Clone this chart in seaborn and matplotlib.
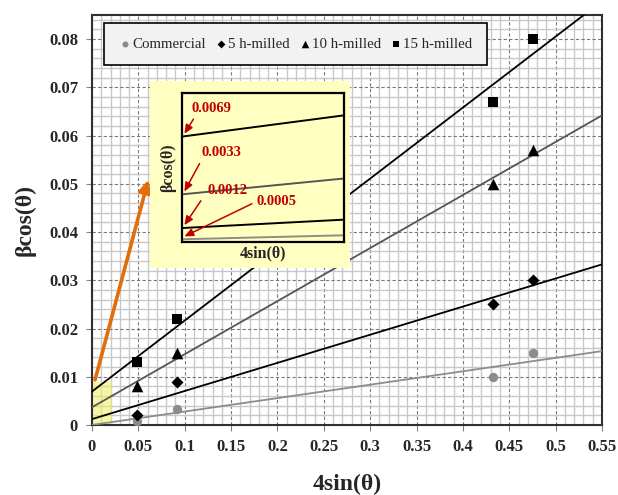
import numpy as np
import pandas as pd
import matplotlib
matplotlib.use("Agg")
import matplotlib.pyplot as plt
import seaborn as sns
from matplotlib.patches import Rectangle
from matplotlib.ticker import MultipleLocator, FixedLocator, FuncFormatter

# ---------------- data ----------------
series_names = ["Commercial", "5 h-milled", "10 h-milled", "15 h-milled"]
x_vals = [0.048, 0.092, 0.432, 0.476]
commercial = [0.0009, 0.0033, 0.0100, 0.0150]
milled_5h = [0.0020, 0.0090, 0.0250, 0.0300]
milled_10h = [0.0080, 0.0150, 0.0500, 0.0570]
milled_15h = [0.0130, 0.0220, 0.0670, 0.0800]
inset_labels = ["0.0005", "0.0012", "0.0033", "0.0069"]
x_ticks = [0, 0.05, 0.1, 0.15, 0.2, 0.25, 0.3, 0.35, 0.4, 0.45, 0.5, 0.55]
y_ticks = [0, 0.01, 0.02, 0.03, 0.04, 0.05, 0.06, 0.07, 0.08]

series_values = [commercial, milled_5h, milled_10h, milled_15h]
markers = ["o", "D", "^", "s"]
marker_sizes = [45, 38, 70, 50]
marker_colors = ["#8C8C8C", "black", "black", "black"]
line_colors = ["#8C8C8C", "black", "#555555", "black"]

sns.set_theme(style="white")
plt.rcParams["font.family"] = ["Liberation Serif", "DejaVu Serif"]

fig = plt.figure(figsize=(6.18, 4.95), dpi=100)
ax = fig.add_axes([92 / 618, 1 - 425 / 495, 510 / 618, 410 / 495])
ax.set_xlim(0, 0.55)
ax.set_ylim(0, 0.085)

# grid
ax.xaxis.set_major_locator(FixedLocator(x_ticks))
ax.yaxis.set_major_locator(FixedLocator(y_ticks))
ax.xaxis.set_minor_locator(MultipleLocator(0.01))
ax.yaxis.set_minor_locator(MultipleLocator(0.002))
ax.set_axisbelow(True)
ax.grid(which="minor", color="#C8C8C8", lw=1.0, ls="-")
ax.grid(which="major", color="#7A7A7A", lw=0.8, ls=(0, (3, 2)))

fmt = FuncFormatter(lambda v, p: f"{v:g}")
ax.xaxis.set_major_formatter(fmt)
ax.yaxis.set_major_formatter(fmt)
ax.tick_params(which="major", direction="out", length=4, width=0.8,
               color="#808080", labelsize=12, pad=6, bottom=True, left=True)
ax.tick_params(which="minor", length=0)
for lab in ax.get_xticklabels() + ax.get_yticklabels():
    lab.set_fontweight("bold")
for sp in ax.spines.values():
    sp.set_color("#303030")
    sp.set_linewidth(1.5)

# regression lines and points
for name, vals, mk, ms, mc, lc in zip(series_names, series_values, markers,
                                       marker_sizes, marker_colors, line_colors):
    sns.regplot(x=x_vals, y=vals, scatter=False, ci=None, truncate=False,
                color=lc, line_kws=dict(lw=1.3, zorder=3), ax=ax)
    sns.scatterplot(x=x_vals, y=vals, marker=mk, s=ms, color=mc,
                    edgecolor=mc, linewidth=0, label=name, ax=ax, zorder=4)
ax.set_xlim(0, 0.55)
ax.set_ylim(0, 0.085)

# highlighted zoom region
ax.add_patch(Rectangle((0, 0), 0.0216, 0.009, facecolor="#F2F060",
                       alpha=0.55, edgecolor="none", zorder=2.5))
ax.annotate("", xy=(0.0615, 0.0514), xytext=(0.0025, 0.0088),
            arrowprops=dict(arrowstyle="-|>,head_length=0.6,head_width=0.3",
                            color="#E46C0A", lw=2.6), zorder=5)

ax.set_xlabel("4sin(θ)", fontsize=17, fontweight="bold")
ax.set_ylabel("βcos(θ)", fontsize=17, fontweight="bold")
ax.xaxis.set_label_coords(0.5, -0.118)
ax.yaxis.set_label_coords(-0.11, 0.5)

leg = ax.legend(loc="upper left", bbox_to_anchor=(0.0235, 0.98),
                ncol=4, fontsize=10.7, handletextpad=0.05,
                columnspacing=0.55, borderpad=0.95, markerscale=0.65,
                fancybox=False, framealpha=1, handlelength=0.9,
                borderaxespad=0)
leg.get_frame().set_facecolor("#F2F2F2")
leg.get_frame().set_edgecolor("black")
leg.get_frame().set_linewidth(1.2)
leg.set_zorder(6)

# inset yellow panel
fig.patches.append(Rectangle((150 / 618, 1 - 268 / 495), 200 / 618, 187 / 495,
                             transform=fig.transFigure, facecolor="#FFFFC2",
                             edgecolor="none", zorder=7))
iax = fig.add_axes([181.7 / 618, 1 - 241.7 / 495, 162.3 / 618, 148.4 / 495])
iax.set_zorder(8)
iax.set_facecolor("#FFFFC2")
ix = np.array([0, 0.009])
for vals, lab, lc in zip(series_values, inset_labels, line_colors):
    slope = np.polyfit(x_vals, vals, 1)[0]
    b = float(lab)
    sns.lineplot(x=ix, y=b + slope * ix, color=lc, lw=1.4, ax=iax)
iax.set_xlim(0, 0.009)
iax.set_ylim(0.00035, 0.0096)
iax.set_xticks([])
iax.set_yticks([])
for sp in iax.spines.values():
    sp.set_color("black")
    sp.set_linewidth(1.6)
iax.set_xlabel("4sin(θ)", fontsize=11.5, fontweight="bold", labelpad=3)
iax.set_ylabel("βcos(θ)", fontsize=11.5, fontweight="bold", labelpad=4)

red = "#C00000"
text_pos = {"0.0069": (0.06, 0.90), "0.0033": (0.125, 0.60),
            "0.0012": (0.16, 0.345), "0.0005": (0.46, 0.27)}
rel = {"0.0069": (0.12, 0.0), "0.0033": (0.0, 0.0),
       "0.0012": (-0.15, -0.2), "0.0005": (0.0, 0.5)}
for lab in inset_labels:
    b = float(lab)
    iax.annotate(lab, xy=(0.00015, b + 0.00018), xycoords="data",
                 xytext=text_pos[lab], textcoords="axes fraction",
                 ha="left", va="center", color=red, fontsize=10.5,
                 fontweight="bold",
                 arrowprops=dict(arrowstyle="-|>,head_length=0.5,head_width=0.22",
                                 color=red, lw=1.1, relpos=rel[lab],
                                 shrinkA=1, shrinkB=0))

fig.savefig("out.png", dpi=100)
